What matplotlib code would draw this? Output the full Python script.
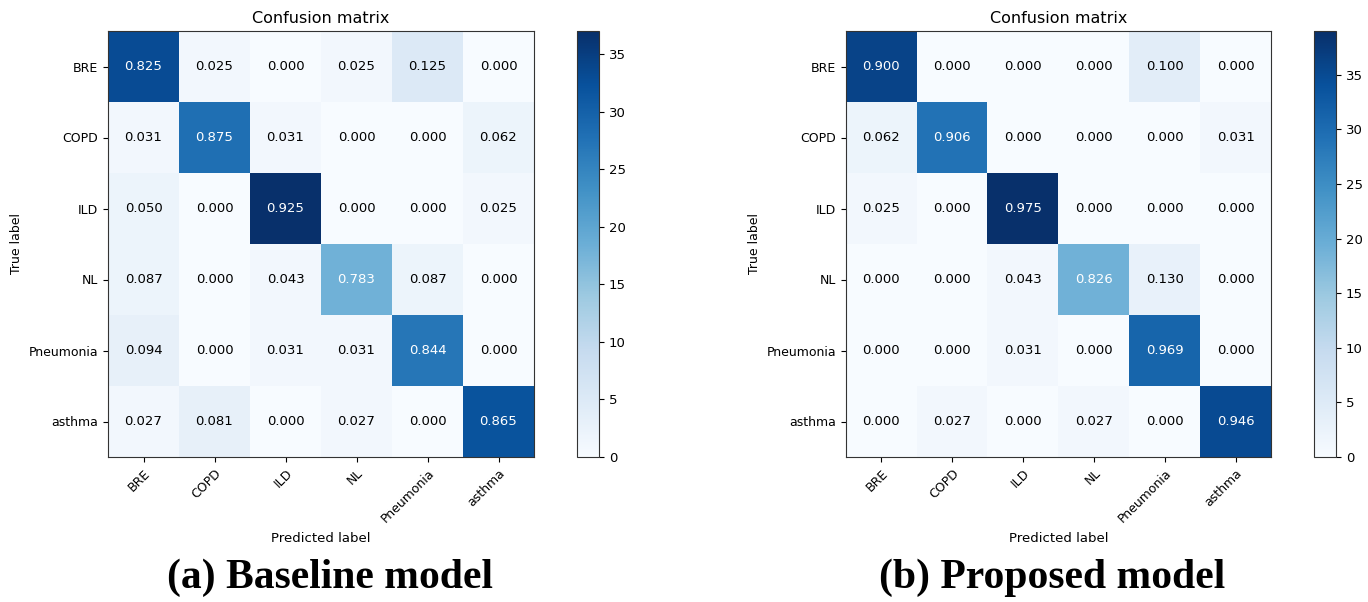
import matplotlib
matplotlib.use("Agg")
import matplotlib.pyplot as plt
import numpy as np

CLASSES = ["BRE", "COPD", "ILD", "NL", "Pneumonia", "asthma"]

# raw counts per true class (rows) vs predicted class (columns)
CM_BASELINE = [
    [33, 1, 0, 1, 5, 0],
    [1, 28, 1, 0, 0, 2],
    [2, 0, 37, 0, 0, 1],
    [2, 0, 1, 18, 2, 0],
    [3, 0, 1, 1, 27, 0],
    [1, 3, 0, 1, 0, 32],
]

CM_PROPOSED = [
    [36, 0, 0, 0, 4, 0],
    [2, 29, 0, 0, 0, 1],
    [1, 0, 39, 0, 0, 0],
    [0, 0, 1, 19, 3, 0],
    [0, 0, 1, 0, 31, 0],
    [0, 1, 0, 1, 0, 35],
]

CAPTIONS = ["(a) Baseline model", "(b) Proposed model"]

W, H = 1368, 602


def box(x0, y0, w, h):
    # pixel box (top-left origin) -> figure fraction
    return [x0 / W, 1 - (y0 + h) / H, w / W, h / H]


def plot_confusion_matrix(ax, cax, cm, classes, title="Confusion matrix"):
    cm = np.array(cm)
    cm_norm = cm.astype(float) / cm.sum(axis=1)[:, np.newaxis]

    im = ax.imshow(cm, interpolation="nearest", cmap=plt.cm.Blues, aspect="auto")
    ax.set_title(title, fontsize=11.5)
    cb = plt.colorbar(im, cax=cax)
    cb.set_ticks(np.arange(0, cm.max() + 1, 5))
    cb.ax.tick_params(labelsize=9.5)
    cb.outline.set_linewidth(0.8)
    cb.outline.set_edgecolor("#333333")

    ticks = np.arange(len(classes))
    ax.set_xticks(ticks)
    ax.set_xticklabels(classes, rotation=45, fontsize=9,
                       ha="right", rotation_mode="anchor")
    ax.set_yticks(ticks)
    ax.set_yticklabels(classes, fontsize=9)

    thresh = cm_norm.max() / 2.
    for i in range(cm.shape[0]):
        for j in range(cm.shape[1]):
            ax.text(j, i, format(cm_norm[i, j], ".3f"),
                    ha="center", va="center", fontsize=9.5,
                    color="white" if cm_norm[i, j] > thresh else "black")

    ax.set_ylabel("True label", fontsize=9)
    ax.set_xlabel("Predicted label", fontsize=9.5, labelpad=5)
    for s in ax.spines.values():
        s.set_linewidth(0.8)
        s.set_edgecolor("#333333")


fig = plt.figure(figsize=(W / 100, H / 100), dpi=100)

ax1 = fig.add_axes(box(108, 31, 426, 426))
cax1 = fig.add_axes(box(577, 31, 22, 426))
plot_confusion_matrix(ax1, cax1, CM_BASELINE, CLASSES)

ax2 = fig.add_axes(box(846, 31, 425, 426))
cax2 = fig.add_axes(box(1314, 31, 22, 426))
plot_confusion_matrix(ax2, cax2, CM_PROPOSED, CLASSES)

for x, cap in zip([330, 1052], CAPTIONS):
    fig.text(x / W, 1 - 578 / H, cap, ha="center", va="center",
             fontsize=30, fontweight="bold", family="Liberation Serif")

fig.savefig("out.png", dpi=100)
